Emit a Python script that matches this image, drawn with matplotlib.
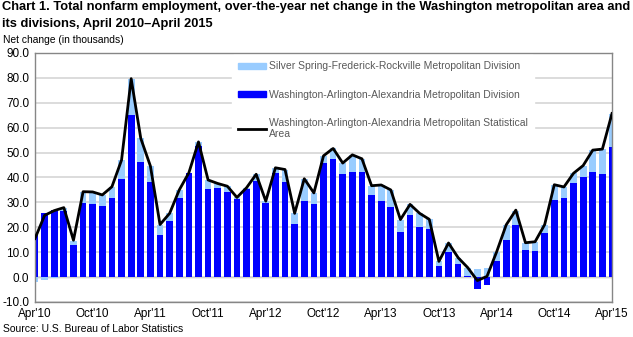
import numpy as np
import matplotlib
matplotlib.use("Agg")
import matplotlib.pyplot as plt
from matplotlib.patches import Patch
from matplotlib.lines import Line2D

# Datos: cambio neto anual (miles), abril 2010 - abril 2015
meses = list(range(61))
etiquetas_x = ["Apr'10", "Oct'10", "Apr'11", "Oct'11", "Apr'12", "Oct'12",
               "Apr'13", "Oct'13", "Apr'14", "Oct'14", "Apr'15"]

washington_div = [17.6, 25.6, 27.0, 26.7, 12.8, 29.6, 29.2, 28.7, 31.9, 39.3,
                  65.3, 46.3, 38.3, 17.1, 22.7, 31.6, 41.7, 52.6, 35.4, 35.8,
                  34.2, 31.2, 35.2, 38.7, 29.9, 41.7, 38.2, 21.4, 30.6, 29.2,
                  45.7, 47.4, 41.4, 42.2, 42.2, 33.0, 30.4, 28.3, 18.0, 25.0,
                  20.3, 19.2, 4.5, 10.1, 5.3, 0.5, -4.8, -3.3, 6.4, 14.8,
                  21.1, 10.9, 10.3, 17.6, 31.0, 31.8, 37.8, 40.3, 42.2, 41.3,
                  52.3]

silver_spring_div = [-2.1, -1.0, -0.3, 1.2, 1.8, 4.7, 4.7, 4.3, 4.4, 7.7,
                     14.4, 9.4, 6.3, 4.0, 2.9, 3.4, 0.2, 1.7, 3.6, 1.8,
                     2.3, 0.8, 0.7, 2.6, 0.6, 2.2, 5.0, 4.2, 8.9, 4.6,
                     3.0, 4.3, 4.4, 6.9, 5.3, 3.7, 6.6, 6.7, 5.1, 4.2,
                     5.3, 4.0, 1.8, 3.6, 2.5, 3.3, 3.4, 3.6, 3.7, 6.2,
                     5.6, 2.8, 3.9, 3.5, 6.1, 4.4, 3.9, 4.5, 8.8, 10.1,
                     13.4]

msa_total = [15.5, 24.8, 26.7, 27.9, 14.8, 34.3, 34.2, 33.0, 36.3, 47.0,
             79.7, 55.7, 44.6, 21.1, 25.6, 35.0, 41.9, 54.3, 39.0, 37.6,
             36.5, 32.0, 35.9, 41.3, 30.5, 43.9, 43.2, 25.6, 39.5, 33.8,
             48.7, 51.7, 45.8, 49.1, 47.5, 36.7, 37.0, 35.0, 23.1, 29.2,
             25.6, 23.2, 6.3, 13.7, 7.8, 3.8, -1.4, 0.3, 10.1, 21.0,
             26.9, 13.8, 14.2, 21.1, 37.1, 36.2, 41.7, 44.8, 51.0, 51.4,
             65.7]

plt.rcParams['font.family'] = ['Liberation Sans', 'DejaVu Sans']

azul = '#0000FF'
celeste = '#99CCFF'
gris_texto = '#595959'

fig = plt.figure(figsize=(6.33, 3.37), dpi=100)
ax = fig.add_axes([35 / 633, 1 - 302 / 337, 577 / 633, 249 / 337])

# Barras apiladas (las negativas se apilan desde cero, como en Excel)
wash = np.array(washington_div)
ss = np.array(silver_spring_div)
base_ss = np.where(np.sign(ss) == np.sign(wash), wash, 0)

ax.bar(meses, wash, width=0.7, color=azul, zorder=2)
ax.bar(meses, ss, width=0.7, bottom=base_ss, color=celeste, zorder=2)
ax.plot(meses, msa_total, color='black', linewidth=2.0, zorder=3)

# Ejes y cuadrícula
ax.set_xlim(0, 60)
ax.set_ylim(-10, 90)
ax.set_yticks(np.arange(-10, 91, 10))
ax.set_yticklabels([f"{v:.1f}" for v in np.arange(-10, 91, 10)])
ax.set_xticks(range(0, 61, 6))
ax.set_xticklabels(etiquetas_x)
ax.tick_params(length=0, labelsize=8.5, colors='black', pad=4)
ax.grid(axis='y', color='#D9D9D9', linewidth=1.3, zorder=0)
ax.axhline(0, color='#7F7F7F', linewidth=0.9, zorder=1)
for s in ax.spines.values():
    s.set_color('#868686')
    s.set_linewidth(1.0)

# Leyenda
handles = [Patch(color=celeste),
           Patch(color=azul),
           Line2D([0], [0], color='black', linewidth=2.0)]
labels = ['Silver Spring-Frederick-Rockville Metropolitan Division',
          'Washington-Arlington-Alexandria Metropolitan Division',
          'Washington-Arlington-Alexandria Metropolitan Statistical\nArea']
leg = ax.legend(handles, labels, loc='upper left', bbox_to_anchor=(0.338, 1.0),
                frameon=True, fontsize=7.5, labelspacing=1.75,
                handlelength=2.7, handleheight=0.55, handletextpad=0.25,
                borderaxespad=0.2, borderpad=0.6)
leg.get_frame().set_facecolor('white')
leg.get_frame().set_edgecolor('white')
leg.get_frame().set_alpha(1)
for t in leg.get_texts():
    t.set_color(gris_texto)

# Textos
fig.text(0.003, 1 - 1 / 337,
         "Chart 1. Total nonfarm employment, over-the-year net change in the Washington metropolitan area and\n"
         "its divisions, April 2010\u2013April 2015",
         ha='left', va='top', fontsize=9.3, fontweight='bold', linespacing=1.5)
fig.text(0.005, 1 - 40 / 337, "Net change (in thousands)", ha='left', va='center', fontsize=7.4)
fig.text(0.005, 1 - 329 / 337, "Source: U.S. Bureau of Labor Statistics", ha='left', va='center', fontsize=7.5)

fig.savefig("out.png", dpi=100)
